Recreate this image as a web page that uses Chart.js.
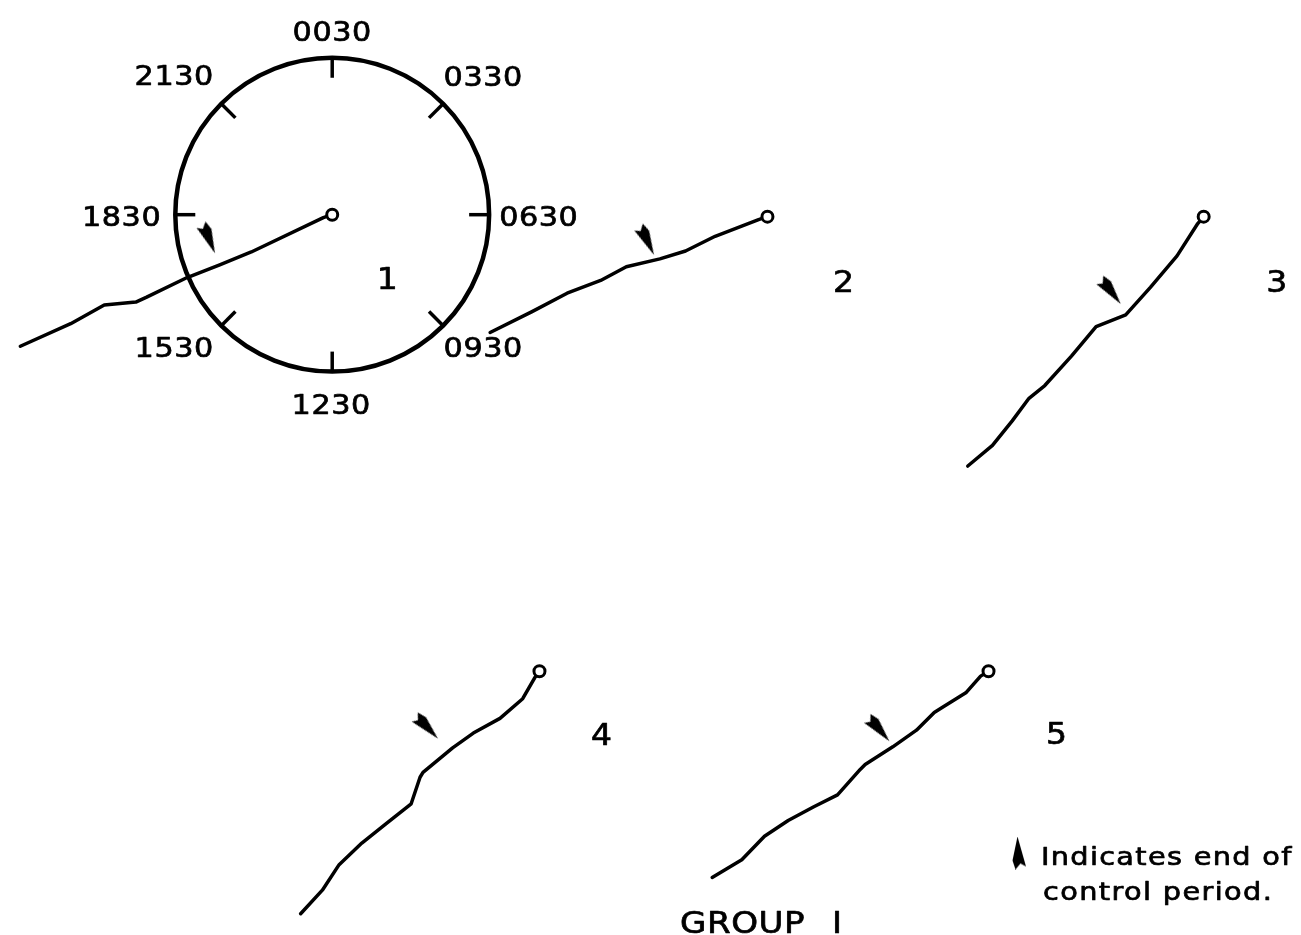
<!DOCTYPE html>
<html>
<head>
<meta charset="utf-8">
<title>Group I - phase vectors</title>
<script src="https://cdn.jsdelivr.net/npm/chart.js@4.4.1/dist/chart.umd.min.js"></script>
<style>
  html, body { margin: 0; padding: 0; background: #fff; }
  #wrap { width: 1301px; height: 935px; position: relative; }
</style>
</head>
<body>
<div id="wrap"><canvas id="phaseChart"></canvas></div>
<script>
/*******************************************************
 * DATA (y up, 1 unit = 1 px)
 *******************************************************/
const panelNames = ["1", "2", "3", "4", "5"];

// start point of each trace (the open circle)
const panelOriginX = [0, 441, 883, 210, 665];
const panelOriginY = [0, -2, -2, -465, -465];

// traces, relative to their start point
const trace1X = [0, -9, -82, -114, -147, -188, -199, -231, -265, -316];
const trace1Y = [0, -3, -38, -51, -64, -84, -89, -92, -111, -134];

const trace2X = [0, -9, -53, -83, -109, -143, -169, -203, -239, -281];
const trace2Y = [0, -3, -20, -35, -43, -51, -65, -78, -97, -118];

const trace3X = [0, -6, -27, -54, -79, -109, -134, -161, -177, -194, -214, -239];
const trace3Y = [0, -7, -40, -72, -100, -112, -142, -172, -185, -208, -233, -254];

const trace4X = [0, -5, -17, -40, -67, -88, -118, -121, -130, -155, -180, -203, -220, -242];
const trace4Y = [0, -7, -28, -48, -63, -78, -103, -108, -135, -155, -175, -197, -223, -247];

const trace5X = [0, -8, -23, -47, -55, -73, -97, -125, -130, -153, -177, -203, -227, -250, -280];
const trace5Y = [0, -5, -22, -37, -42, -60, -77, -95, -100, -126, -138, -152, -168, -192, -210];

// end of control period markers, relative to start point
const endControlX = [-126, -123, -95, -115, -112];
const endControlY = [-24, -24, -76, -57, -59];
const endControlTilt = [-20, -23, -35, -41, -38];

// clock face
const clockLabels = ["0030", "0330", "0630", "0930", "1230", "1530", "1830", "2130"];
const clockRadius = 159;

const legendLines = ["Indicates end of", "control period."];
const groupTitle = "GROUP I";

/*******************************************************
 * HELPERS
 *******************************************************/
const traceX = [trace1X, trace2X, trace3X, trace4X, trace5X];
const traceY = [trace1Y, trace2Y, trace3Y, trace4Y, trace5Y];

function tracePoints(i) {
  return traceX[i].map((v, k) => ({
    x: panelOriginX[i] + v,
    y: panelOriginY[i] + traceY[i][k]
  }));
}

// notched arrowhead pointing down
function makeArrowHead() {
  const c = document.createElement("canvas");
  c.width = 14;
  c.height = 33;
  const g = c.getContext("2d");
  g.fillStyle = "#000";
  g.beginPath();
  g.moveTo(8.5, 33);
  g.lineTo(0, 3);
  g.lineTo(5.5, 6);
  g.lineTo(10.5, 0);
  g.lineTo(13.5, 9);
  g.closePath();
  g.fill();
  return c;
}
const arrowHead = makeArrowHead();

// lettering: slightly widened and thickened DejaVu Sans
function drawText(ctx, s, px, py, size, align, spacing, stretch) {
  ctx.save();
  ctx.translate(px, py);
  ctx.scale(stretch || 1, 1);
  ctx.font = size + 'px "DejaVu Sans"';
  ctx.letterSpacing = spacing + "px";
  ctx.textAlign = align;
  ctx.textBaseline = "alphabetic";
  ctx.lineWidth = 0.7;
  ctx.lineJoin = "round";
  ctx.fillText(s, 0, 0);
  ctx.strokeText(s, 0, 0);
  ctx.restore();
}

/*******************************************************
 * CLOCK FACE + LABELS PLUGIN
 *******************************************************/
const clockFace = {
  id: "clockFace",
  beforeDatasetsDraw(chart) {
    const { ctx, scales: { x, y } } = chart;
    const cx = x.getPixelForValue(panelOriginX[0]);
    const cy = y.getPixelForValue(panelOriginY[0]);
    const r = x.getPixelForValue(clockRadius) - x.getPixelForValue(0);

    ctx.save();
    ctx.strokeStyle = "#000";
    ctx.fillStyle = "#000";
    ctx.lineWidth = 4.5;
    ctx.beginPath();
    ctx.arc(cx, cy, r, 0, Math.PI * 2);
    ctx.stroke();

    ctx.lineWidth = 3.5;
    ctx.lineCap = "butt";
    for (let k = 0; k < 8; k++) {
      const a = k * Math.PI / 4;
      const sx = Math.sin(a), sy = -Math.cos(a);
      ctx.beginPath();
      ctx.moveTo(cx + sx * r, cy + sy * r);
      ctx.lineTo(cx + sx * (r - 20), cy + sy * (r - 20));
      ctx.stroke();
    }

    // label placement around the dial: [dx, dy(center), align]
    const spots = [
      [0, -184, "center"], [151, -139, "center"], [167, 1, "left"], [151, 132, "center"],
      [-1, 189, "center"], [-158, 132, "center"], [-171, 1, "right"], [-158, -140, "center"]
    ];
    clockLabels.forEach((lab, k) => {
      const s = spots[k];
      drawText(ctx, lab, cx + s[0], cy + s[1] + 10, 27, s[2], 0.5, 1.12);
    });

    // panel numbers
    const numDX = [55, 76, 73, 62, 68];
    const numDY = [63, 64, 64, 63, 62];
    panelNames.forEach((n, i) => {
      const px = x.getPixelForValue(panelOriginX[i]) + numDX[i];
      const py = y.getPixelForValue(panelOriginY[i]) + numDY[i];
      drawText(ctx, n, px, py + 11, 30, "center", 0, 1.1);
    });

    // group title
    ctx.save();
    ctx.wordSpacing = "14px";
    drawText(ctx, groupTitle, 680, 933, 31, "left", 0.5, 1.1);
    ctx.restore();

    // legend
    ctx.save();
    ctx.translate(1019, 853);
    ctx.rotate(Math.PI);
    ctx.drawImage(arrowHead, -arrowHead.width / 2, -arrowHead.height / 2);
    ctx.restore();
    drawText(ctx, legendLines[0], 1041, 865, 25, "left", 1.15, 1.15);
    drawText(ctx, legendLines[1], 1043, 900, 25, "left", 1.2, 1.15);
    ctx.restore();
  }
};

/*******************************************************
 * CHART
 *******************************************************/
const datasets = panelNames.map((name, i) => ({
  label: "Animal " + name,
  data: tracePoints(i),
  showLine: true,
  borderColor: "#000",
  borderWidth: 3.5,
  borderJoinStyle: "round",
  borderCapStyle: "round",
  tension: 0,
  pointRadius: ctx => (ctx.dataIndex === 0 ? 5.5 : 0),
  pointBackgroundColor: "#fff",
  pointBorderColor: "#000",
  pointBorderWidth: 3,
  order: 2
}));

datasets.push({
  label: "End of control period",
  data: panelNames.map((n, i) => ({
    x: panelOriginX[i] + endControlX[i],
    y: panelOriginY[i] + endControlY[i]
  })),
  showLine: false,
  pointStyle: arrowHead,
  pointRadius: 5,
  rotation: ctx => endControlTilt[ctx.dataIndex],
  order: 1
});

new Chart(document.getElementById("phaseChart"), {
  type: "scatter",
  data: { datasets: datasets },
  plugins: [clockFace],
  options: {
    responsive: true,
    maintainAspectRatio: false,
    animation: false,
    events: [],
    layout: { padding: 0 },
    scales: {
      x: { type: "linear", min: -328, max: 973, display: false },
      y: { type: "linear", min: -725, max: 210, display: false }
    },
    plugins: {
      legend: { display: false },
      tooltip: { enabled: false },
      title: { display: false }
    }
  }
});
</script>
</body>
</html>
